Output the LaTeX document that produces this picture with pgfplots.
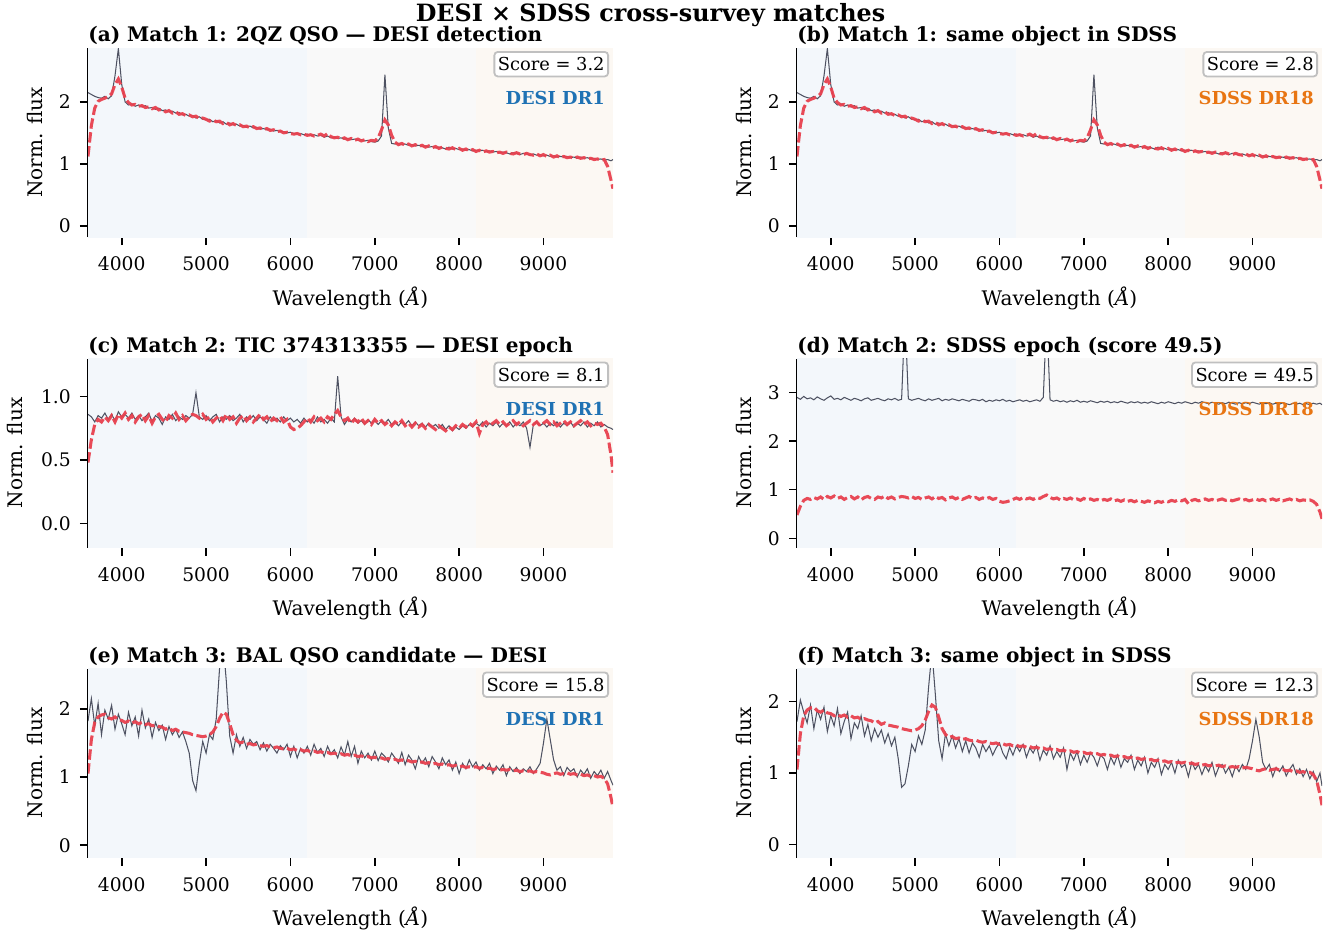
\documentclass[border=0pt]{standalone}
\usepackage{fontspec}
\setmainfont{DejaVu Serif}
\usepackage{pgfplots}
\pgfplotsset{compat=1.18}
\usepackage{pgfplotstable}

\definecolor{bgblue}{RGB}{243,247,251}
\definecolor{bggray}{RGB}{249,249,249}
\definecolor{bgorange}{RGB}{252,248,243}
\definecolor{specgray}{RGB}{78,82,98}
\definecolor{modelred}{RGB}{232,65,79}
\definecolor{desiblue}{RGB}{31,114,180}
\definecolor{sdssorange}{RGB}{232,117,18}
\definecolor{boxedge}{RGB}{192,192,192}

\pgfplotstableread{
x ag ar cg cr dg eg er fg
3600 2.15 1.12 0.86 0.48 2.90 1.82 1.05 1.72
3640 2.12 1.62 0.84 0.66 2.86 2.15 1.55 2.02
3680 2.09 1.90 0.80 0.78 2.92 1.75 1.80 1.85
3720 2.07 2.01 0.85 0.82 2.87 2.08 1.88 1.70
3760 2.06 2.04 0.83 0.80 2.89 1.62 1.91 1.95
3800 2.09 2.06 0.87 0.84 2.85 1.98 1.92 1.62
3840 2.05 2.09 0.82 0.81 2.91 1.85 1.87 1.88
3880 2.10 2.13 0.86 0.85 2.87 2.05 1.85 1.75
3920 2.42 2.28 0.81 0.80 2.84 1.70 1.88 1.92
3960 2.86 2.37 0.88 0.86 2.89 1.92 1.84 1.58
4000 2.28 2.24 0.84 0.83 2.93 1.78 1.83 1.80
4040 2.00 2.06 0.86 0.87 2.86 1.62 1.80 1.66
4080 1.95 1.99 0.83 0.82 2.88 1.95 1.82 1.90
4120 1.97 1.95 0.87 0.85 2.85 1.75 1.79 1.55
4160 1.93 1.96 0.82 0.80 2.90 1.88 1.81 1.72
4200 1.95 1.93 0.85 0.84 2.87 1.60 1.78 1.85
4240 1.92 1.94 0.81 0.86 2.84 1.98 1.80 1.48
4280 1.94 1.91 0.84 0.81 2.88 1.72 1.77 1.70
4320 1.90 1.92 0.87 0.85 2.86 1.85 1.78 1.62
4360 1.91 1.89 0.80 0.79 2.83 1.58 1.75 1.80
4400 1.88 1.91 0.85 0.84 2.87 1.80 1.76 1.52
4440 1.90 1.87 0.83 0.86 2.89 1.68 1.74 1.68
4480 1.86 1.88 0.78 0.82 2.84 1.76 1.73 1.45
4520 1.87 1.84 0.84 0.80 2.86 1.55 1.70 1.62
4560 1.84 1.86 0.82 0.85 2.88 1.74 1.72 1.50
4600 1.85 1.82 0.86 0.83 2.85 1.62 1.68 1.60
4640 1.82 1.84 0.81 0.87 2.83 1.70 1.70 1.42
4680 1.83 1.80 0.84 0.82 2.87 1.58 1.67 1.55
4720 1.79 1.81 0.82 0.85 2.85 1.66 1.66 1.38
4760 1.80 1.78 0.85 0.81 2.88 1.52 1.65 1.50
4800 1.77 1.79 0.83 0.84 2.84 1.35 1.64 1.20
4840 1.78 1.76 0.86 0.86 2.86 0.95 1.62 0.80
4880 1.74 1.77 1.03 0.85 4.60 0.80 1.61 0.85
4920 1.76 1.73 0.84 0.83 2.87 1.20 1.60 1.10
4960 1.72 1.74 0.82 0.86 2.84 1.52 1.59 1.40
5000 1.71 1.72 0.85 0.82 2.86 1.35 1.60 1.30
5040 1.72 1.69 0.81 0.84 2.88 1.62 1.62 1.52
5080 1.68 1.71 0.84 0.80 2.85 1.55 1.66 1.40
5120 1.70 1.68 0.86 0.83 2.83 1.85 1.74 1.60
5160 1.66 1.69 0.80 0.85 2.87 2.60 1.86 2.20
5200 1.68 1.65 0.84 0.81 2.84 3.00 1.95 2.70
5240 1.64 1.67 0.82 0.86 2.86 2.40 1.92 2.10
5280 1.66 1.63 0.85 0.82 2.88 1.60 1.78 1.45
5320 1.63 1.65 0.81 0.84 2.83 1.35 1.62 1.20
5360 1.64 1.62 0.83 0.79 2.86 1.62 1.54 1.55
5400 1.61 1.63 0.86 0.83 2.84 1.45 1.50 1.38
5440 1.62 1.60 0.80 0.85 2.87 1.58 1.51 1.52
5480 1.59 1.61 0.84 0.81 2.85 1.42 1.48 1.35
5520 1.61 1.58 0.82 0.84 2.83 1.55 1.49 1.48
5560 1.58 1.60 0.85 0.80 2.86 1.48 1.47 1.30
5600 1.59 1.57 0.81 0.83 2.84 1.52 1.48 1.45
5640 1.56 1.58 0.84 0.86 2.82 1.40 1.46 1.28
5680 1.57 1.55 0.82 0.82 2.86 1.50 1.45 1.42
5720 1.55 1.57 0.79 0.84 2.85 1.38 1.46 1.35
5760 1.56 1.54 0.84 0.80 2.83 1.48 1.44 1.22
5800 1.53 1.55 0.81 0.83 2.86 1.42 1.43 1.40
5840 1.54 1.52 0.83 0.81 2.81 1.35 1.44 1.30
5880 1.52 1.53 0.80 0.84 2.84 1.46 1.42 1.38
5920 1.52 1.50 0.84 0.80 2.82 1.40 1.41 1.25
5960 1.50 1.51 0.81 0.82 2.85 1.48 1.42 1.35
6000 1.51 1.49 0.83 0.76 2.83 1.30 1.40 1.42
6040 1.49 1.48 0.80 0.74 2.86 1.45 1.41 1.28
6080 1.48 1.49 0.82 0.75 2.82 1.28 1.39 1.20
6120 1.49 1.47 0.79 0.77 2.84 1.42 1.40 1.36
6160 1.47 1.48 0.83 0.80 2.81 1.35 1.38 1.25
6200 1.48 1.46 0.80 0.83 2.83 1.45 1.39 1.38
6240 1.46 1.47 0.82 0.80 2.85 1.32 1.37 1.30
6280 1.47 1.45 0.79 0.84 2.82 1.48 1.38 1.40
6320 1.45 1.46 0.84 0.81 2.84 1.36 1.36 1.22
6360 1.46 1.48 0.80 0.83 2.81 1.42 1.37 1.35
6400 1.43 1.45 0.82 0.80 2.83 1.30 1.35 1.28
6440 1.45 1.49 0.79 0.84 2.85 1.45 1.36 1.38
6480 1.42 1.44 0.83 0.82 2.82 1.34 1.34 1.18
6520 1.43 1.42 0.80 0.86 2.90 1.40 1.35 1.32
6560 1.41 1.43 1.16 0.89 4.60 1.28 1.33 1.25
6600 1.42 1.40 0.84 0.84 2.85 1.44 1.34 1.38
6640 1.40 1.42 0.78 0.81 2.82 1.32 1.32 1.20
6680 1.41 1.39 0.82 0.83 2.84 1.52 1.33 1.30
6720 1.39 1.41 0.80 0.79 2.81 1.30 1.31 1.22
6760 1.40 1.38 0.83 0.82 2.83 1.45 1.32 1.35
6800 1.38 1.40 0.79 0.80 2.80 1.20 1.30 1.05
6840 1.39 1.37 0.81 0.83 2.83 1.38 1.31 1.28
6880 1.37 1.39 0.78 0.79 2.81 1.28 1.29 1.18
6920 1.38 1.36 0.82 0.81 2.84 1.35 1.30 1.30
6960 1.36 1.38 0.79 0.78 2.80 1.25 1.28 1.12
7000 1.35 1.37 0.81 0.82 2.82 1.38 1.29 1.25
7040 1.37 1.42 0.78 0.79 2.80 1.24 1.27 1.15
7080 1.45 1.55 0.81 0.81 2.83 1.35 1.28 1.28
7120 2.44 1.71 0.79 0.78 2.81 1.30 1.26 1.22
7160 1.58 1.63 0.82 0.80 2.79 1.22 1.27 1.10
7200 1.33 1.46 0.78 0.77 2.82 1.35 1.25 1.25
7240 1.32 1.35 0.80 0.80 2.80 1.28 1.26 1.20
7280 1.33 1.31 0.77 0.78 2.82 1.20 1.24 1.05
7320 1.31 1.33 0.80 0.81 2.79 1.36 1.25 1.22
7360 1.32 1.30 0.78 0.77 2.81 1.18 1.23 1.12
7400 1.30 1.32 0.81 0.79 2.79 1.32 1.24 1.25
7440 1.31 1.29 0.77 0.76 2.82 1.25 1.22 1.08
7480 1.29 1.31 0.80 0.79 2.80 1.12 1.23 1.20
7520 1.30 1.28 0.77 0.76 2.78 1.30 1.21 1.15
7560 1.28 1.30 0.79 0.78 2.81 1.20 1.22 1.25
7600 1.29 1.27 0.76 0.75 2.79 1.28 1.20 1.05
7640 1.27 1.29 0.79 0.78 2.81 1.15 1.21 1.18
7680 1.28 1.26 0.76 0.76 2.78 1.30 1.19 1.10
7720 1.26 1.28 0.78 0.74 2.80 1.22 1.20 1.22
7760 1.27 1.25 0.75 0.77 2.78 1.12 1.18 1.00
7800 1.26 1.27 0.78 0.75 2.81 1.28 1.19 1.15
7840 1.24 1.25 0.74 0.73 2.79 1.18 1.17 1.08
7880 1.27 1.24 0.77 0.76 2.77 1.25 1.18 1.20
7920 1.24 1.26 0.73 0.74 2.80 1.10 1.16 0.98
7960 1.25 1.23 0.76 0.77 2.78 1.22 1.17 1.12
8000 1.23 1.25 0.74 0.75 2.81 1.05 1.15 1.05
8040 1.24 1.22 0.77 0.78 2.79 1.20 1.16 1.15
8080 1.22 1.24 0.75 0.76 2.77 1.12 1.14 1.00
8120 1.23 1.21 0.78 0.79 2.80 1.25 1.15 1.18
8160 1.21 1.23 0.76 0.77 2.78 1.15 1.14 1.08
8200 1.22 1.20 0.79 0.80 2.81 1.22 1.15 1.12
8240 1.21 1.22 0.77 0.71 2.79 1.10 1.13 0.95
8280 1.22 1.19 0.80 0.78 2.77 1.18 1.14 1.15
8320 1.20 1.21 0.76 0.80 2.80 1.12 1.12 1.05
8360 1.21 1.19 0.79 0.77 2.78 1.20 1.13 1.12
8400 1.19 1.20 0.77 0.79 2.81 1.05 1.11 0.98
8440 1.20 1.18 0.80 0.81 2.79 1.16 1.12 1.10
8480 1.18 1.19 0.76 0.78 2.77 1.10 1.10 1.02
8520 1.19 1.17 0.79 0.80 2.80 1.18 1.11 1.15
8560 1.18 1.19 0.77 0.77 2.78 1.02 1.10 0.96
8600 1.16 1.17 0.80 0.79 2.76 1.15 1.11 1.08
8640 1.18 1.16 0.76 0.81 2.79 1.08 1.09 1.12
8680 1.17 1.18 0.79 0.78 2.77 1.14 1.10 1.00
8720 1.15 1.16 0.77 0.80 2.80 1.05 1.08 1.08
8760 1.17 1.15 0.80 0.77 2.78 1.12 1.09 0.95
8800 1.16 1.17 0.75 0.79 2.76 1.08 1.08 1.10
8840 1.14 1.15 0.60 0.81 2.79 1.15 1.09 1.02
8880 1.16 1.14 0.78 0.78 2.77 1.05 1.07 1.12
8920 1.14 1.16 0.80 0.80 2.79 1.12 1.08 1.05
8960 1.15 1.13 0.77 0.77 2.77 1.20 1.07 1.20
9000 1.13 1.15 0.79 0.79 2.80 1.50 1.06 1.45
9040 1.14 1.12 0.76 0.81 2.78 1.85 1.04 1.75
9080 1.12 1.14 0.79 0.78 2.76 1.55 1.03 1.50
9120 1.13 1.11 0.77 0.80 2.79 1.25 1.05 1.15
9160 1.11 1.13 0.80 0.77 2.77 1.10 1.06 1.05
9200 1.12 1.10 0.76 0.79 2.79 1.15 1.04 1.12
9240 1.11 1.12 0.79 0.81 2.76 1.02 1.05 0.95
9280 1.12 1.10 0.77 0.78 2.78 1.14 1.06 1.08
9320 1.10 1.11 0.80 0.80 2.76 1.08 1.04 1.02
9360 1.11 1.09 0.76 0.77 2.79 1.12 1.05 1.10
9400 1.09 1.11 0.79 0.79 2.77 1.00 1.03 0.96
9440 1.11 1.09 0.77 0.81 2.75 1.10 1.04 1.05
9480 1.09 1.10 0.80 0.78 2.78 1.04 1.02 1.12
9520 1.10 1.08 0.76 0.80 2.76 1.12 1.03 0.98
9560 1.08 1.09 0.79 0.77 2.78 0.98 1.01 1.06
9600 1.09 1.07 0.77 0.79 2.75 1.08 1.02 0.95
9640 1.07 1.08 0.80 0.78 2.77 1.02 1.00 1.05
9680 1.08 1.06 0.76 0.79 2.75 1.10 1.01 0.92
9720 1.06 1.07 0.78 0.76 2.78 0.98 0.98 1.02
9760 1.07 0.96 0.76 0.70 2.76 1.08 0.90 0.88
9800 1.05 0.74 0.75 0.54 2.78 0.95 0.70 1.00
9824 1.07 0.60 0.74 0.40 2.75 0.88 0.55 0.82
}\spectra

\newcommand{\tickfont}{\fontsize{13.5}{16}\selectfont}
\newcommand{\labfont}{\fontsize{14.5}{17}\selectfont}
\newcommand{\boxfont}{\fontsize{12.9}{15}\selectfont}

\pgfplotsset{
  panel/.style={
    width=5.25in, height=1.89in, scale only axis,
    anchor=north west,
    xmin=3600, xmax=9824,
    axis x line*=bottom, axis y line*=left,
    axis line style={-, line width=1.3pt, black},
    tick align=outside,
    major tick length=0.08in,
    tick style={line width=1.1pt, black},
    xtick={4000,5000,6000,7000,8000,9000},
    minor tick num=0,
    scaled ticks=false,
    /pgf/number format/1000 sep={},
    /pgf/number format/assume math mode=true,
    ticklabel style={font=\tickfont, inner sep=0pt},
    xticklabel style={anchor=center, yshift=-0.19in},
    yticklabel style={anchor=east, xshift=-0.09in},
    xlabel={Wavelength (\textit{Å})},
    ylabel={Norm. flux},
    label style={font=\labfont, inner sep=0pt},
    xlabel style={at={(axis description cs:0.5,-0.362)}, anchor=base},
    ylabel style={at={(axis description cs:-0.0876,0.5)}, anchor=base, rotate=0},
    title style={at={(axis description cs:0,1)}, anchor=base west, yshift=-0.02in,
      inner sep=0pt, font=\bfseries\labfont},
    clip=true,
  },
  grayline/.style={specgray, line width=0.75pt, no markers},
  redline/.style={modelred, line width=2.2pt, dash pattern=on 7.5pt off 2.6pt, no markers, opacity=0.95},
}

\newcommand{\bgspans}{%
  \fill[bgblue] (axis cs:3600,-10) rectangle (axis cs:6200,10);
  \fill[bggray] (axis cs:6200,-10) rectangle (axis cs:8200,10);
  \fill[bgorange] (axis cs:8200,-10) rectangle (axis cs:9824,10);
}
\newcommand{\scorebox}[1]{%
  \node[draw=boxedge, line width=1.3pt, rounded corners=2.5pt, fill=white,
        inner xsep=0.035in, inner ysep=0.055in, anchor=north east, font=\boxfont]
        at (rel axis cs:0.9924,0.984) {Score = #1};
}
\newcommand{\surveylabel}[2]{%
  \node[anchor=base east, inner sep=0pt, font=\bfseries\boxfont, text=#1]
        at (rel axis cs:0.985,0.70) {#2};
}

\begin{document}
\begin{tikzpicture}
\useasboundingbox (0,0) rectangle (13.38in,-9.35in);
\node[anchor=base, inner sep=0pt, font=\bfseries\fontsize{17.2}{20}\selectfont]
  at (6.505in,-0.21in) {DESI × SDSS cross-survey matches};

% (a)
\begin{axis}[panel, at={(0.88in,-0.48in)}, ymin=-0.18, ymax=2.87, ytick={0,1,2},
  title={(a) Match 1: 2QZ QSO — DESI detection}]
\bgspans
\addplot[grayline] table[x=x,y=ag]{\spectra};
\addplot[redline] table[x=x,y=ar]{\spectra};
\scorebox{3.2}
\surveylabel{desiblue}{DESI DR1}
\end{axis}

% (b)
\begin{axis}[panel, at={(7.97in,-0.48in)}, ymin=-0.18, ymax=2.87, ytick={0,1,2},
  title={(b) Match 1: same object in SDSS}]
\bgspans
\addplot[grayline] table[x=x,y=ag]{\spectra};
\addplot[redline] table[x=x,y=ar]{\spectra};
\scorebox{2.8}
\surveylabel{sdssorange}{SDSS DR18}
\end{axis}

% (c)
\begin{axis}[panel, at={(0.88in,-3.585in)}, ymin=-0.19, ymax=1.30, ytick={0,0.5,1},
  yticklabel style={/pgf/number format/fixed, /pgf/number format/fixed zerofill, /pgf/number format/precision=1},
  ylabel style={at={(axis description cs:-0.125,0.5)}},
  title={(c) Match 2: TIC 374313355 — DESI epoch}]
\bgspans
\addplot[grayline] table[x=x,y=cg]{\spectra};
\addplot[redline] table[x=x,y=cr]{\spectra};
\scorebox{8.1}
\surveylabel{desiblue}{DESI DR1}
\end{axis}

% (d)
\begin{axis}[panel, at={(7.97in,-3.585in)}, ymin=-0.19, ymax=3.70, ytick={0,1,2,3},
  title={(d) Match 2: SDSS epoch (score 49.5)}]
\bgspans
\addplot[grayline] table[x=x,y=dg]{\spectra};
\addplot[redline] table[x=x,y=cr]{\spectra};
\scorebox{49.5}
\surveylabel{sdssorange}{SDSS DR18}
\end{axis}

% (e)
\begin{axis}[panel, at={(0.88in,-6.685in)}, ymin=-0.18, ymax=2.59, ytick={0,1,2},
  title={(e) Match 3: BAL QSO candidate — DESI}]
\bgspans
\addplot[grayline] table[x=x,y=eg]{\spectra};
\addplot[redline] table[x=x,y=er]{\spectra};
\scorebox{15.8}
\surveylabel{desiblue}{DESI DR1}
\end{axis}

% (f)
\begin{axis}[panel, at={(7.97in,-6.685in)}, ymin=-0.18, ymax=2.46, ytick={0,1,2},
  title={(f) Match 3: same object in SDSS}]
\bgspans
\addplot[grayline] table[x=x,y=fg]{\spectra};
\addplot[redline] table[x=x,y=er]{\spectra};
\scorebox{12.3}
\surveylabel{sdssorange}{SDSS DR18}
\end{axis}
\end{tikzpicture}
\end{document}
